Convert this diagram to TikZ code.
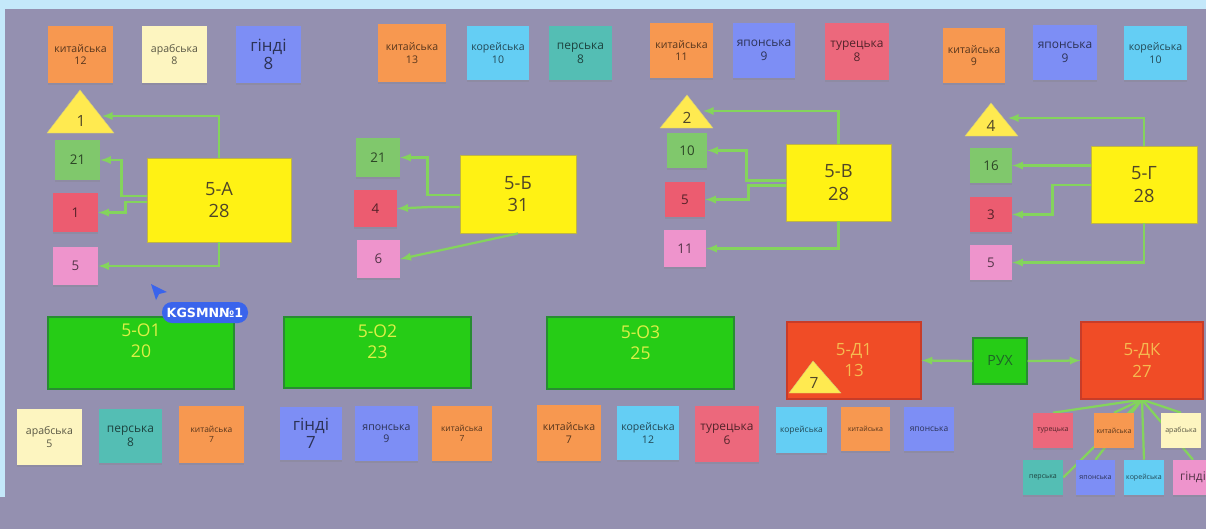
\documentclass[tikz,border=0pt]{standalone}
\usepackage{fontspec}
\setmainfont{Open Sans}
\newfontfamily\tagfont{DejaVu Sans}
\usetikzlibrary{positioning, shadows, backgrounds}

\newlength\unitpx
\setlength\unitpx{0.025cm}

\definecolor{bgpurple}{RGB}{148,144,176}
\definecolor{bandblue}{RGB}{196,232,250}
\definecolor{storange}{RGB}{247,152,80}
\definecolor{stcream}{RGB}{253,245,192}
\definecolor{stblue}{RGB}{125,142,245}
\definecolor{stcyan}{RGB}{100,206,244}
\definecolor{stteal}{RGB}{84,190,180}
\definecolor{stcoral}{RGB}{236,104,124}
\definecolor{stgreen}{RGB}{128,200,108}
\definecolor{stred}{RGB}{236,92,112}
\definecolor{stpink}{RGB}{238,148,204}
\definecolor{boxyellow}{RGB}{255,242,20}
\definecolor{boxedge}{RGB}{190,180,70}
\definecolor{boxtext}{RGB}{80,70,40}
\definecolor{triyellow}{RGB}{255,234,80}
\definecolor{brightgreen}{RGB}{38,204,22}
\definecolor{greenedge}{RGB}{40,140,50}
\definecolor{greentext}{RGB}{220,240,70}
\definecolor{boxred}{RGB}{240,76,38}
\definecolor{rededge}{RGB}{200,60,40}
\definecolor{redtext}{RGB}{245,186,80}
\definecolor{ruhtext}{RGB}{30,100,40}
\definecolor{arrowgreen}{RGB}{132,212,92}
\definecolor{tagblue}{RGB}{58,100,236}

\tikzset{
	sticky/.style={shape=rectangle, fill=#1, text=#1!35!black, inner sep=0pt, align=center, font=\fontsize{7.5}{9}\selectfont, drop shadow={shadow xshift=0pt, shadow yshift=-1.2pt, opacity=0.25}},
	sz/.style 2 args={minimum width=#1\unitpx, minimum height=#2\unitpx},
	midtext/.style={font=\fontsize{8.5}{10}\selectfont},
	hugetext/.style={font=\fontsize{12}{13}\selectfont},
	numtext/.style={font=\fontsize{9.5}{11}\selectfont},
	smalltext/.style={font=\fontsize{6}{7}\selectfont},
	tinytext/.style={font=\fontsize{5}{6}\selectfont},
	bigbox/.style={shape=rectangle, fill=boxyellow, draw=boxedge, line width=0.6pt, text=boxtext, align=center, inner sep=0pt, font=\fontsize{13}{16}\selectfont},
	grbox/.style={shape=rectangle, fill=brightgreen, draw=greenedge, line width=0.8pt, inner sep=0pt},
	grtext/.style={text=greentext, align=center, inner sep=0pt, font=\fontsize{12.5}{15}\selectfont},
	redbox/.style={shape=rectangle, fill=boxred, draw=rededge, line width=0.8pt, text=redtext, align=center, inner sep=0pt, font=\fontsize{12}{15}\selectfont},
	ruhbox/.style={shape=rectangle, fill=brightgreen, draw=greenedge, line width=0.8pt, text=ruhtext, inner sep=0pt, font=\fontsize{10}{12}\selectfont},
	trifill/.style={fill=triyellow, draw=boxedge!70, line width=0.3pt},
	tritext/.style={text=boxtext, inner sep=0pt, font=\fontsize{11}{12}\selectfont},
	arrowg/.style={draw=arrowgreen, line width=1.6pt, -latex},
	fanline/.style={draw=arrowgreen, line width=1.6pt},
	cursortag/.style={shape=rectangle, rounded corners=10\unitpx, fill=tagblue, text=white, inner sep=0pt, font=\tagfont\bfseries\fontsize{9}{10}\selectfont}
}

\begin{document}
\begin{tikzpicture}[x=0.025cm, y=-0.025cm]
	\useasboundingbox (0,0) rectangle (1206,529);
	\clip (0,0) rectangle (1206,529);
	% Board:
	\begin{pgfonlayer}{background}
		\fill[bgpurple] (0,0) rectangle (1206,529);
		\fill[bandblue] (0,0) rectangle (1206,9);
		\fill[bandblue] (0,0) rectangle (5,497);
	\end{pgfonlayer}

	% Top stickers:
	\node[sticky=storange, sz={65}{57}] (kit12) at (80.5,54.5) {китайська\\12};
	\node[sticky=stcream, sz={65}{57}] (arab8) at (174.5,54.5) {арабська\\8};
	\node[sticky=stblue, sz={65}{57}, hugetext] (hindi8) at (268.5,54.5) {гінді\\8};
	\node[sticky=storange, sz={68}{58}] (kit13) at (412,53) {китайська\\13};
	\node[sticky=stcyan, sz={62}{54}] (kor10) at (498,53) {корейська\\10};
	\node[sticky=stteal, sz={63}{54}, midtext] (pers8) at (580.5,53) {перська\\8};
	\node[sticky=storange, sz={63}{55}] (kit11) at (681.5,50.5) {китайська\\11};
	\node[sticky=stblue, sz={62}{55}, midtext] (yap9) at (764,50.5) {японська\\9};
	\node[sticky=stcoral, sz={64}{57}, midtext] (tur8) at (857,51.5) {турецька\\8};
	\node[sticky=storange, sz={62}{55}] (kit9) at (974,55.5) {китайська\\9};
	\node[sticky=stblue, sz={64}{55}, midtext] (yap9b) at (1065,52.5) {японська\\9};
	\node[sticky=stcyan, sz={63}{54}] (kor10b) at (1155.5,53) {корейська\\10};

	% 5-A:
	\fill[trifill] (80,90) -- (114,133) -- (47,133) -- cycle;
	\node[tritext] (tri1) at (81,121) {1};
	\coordinate (tri1e) at (102,116);
	\node[sticky=stgreen, sz={45}{40}, numtext] (a21) at (77.5,160) {21};
	\node[sticky=stred, sz={45}{39}, numtext] (a1) at (75.5,212.5) {1};
	\node[sticky=stpink, sz={45}{38}, numtext] (a5) at (75.5,266) {5};
	\node[bigbox, sz={144}{84}] (boxA) at (219,200) {5-А\\28};
	\draw[arrowg] (boxA.north) |- (tri1e);
	\draw[arrowg] (boxA.west) ++(0,-4) -- ++(-25,0) |- (a21.east);
	\draw[arrowg] (boxA.west) ++(0,2) -- ++(-21,0) |- (a1.east);
	\draw[arrowg] (boxA.south) |- (a5.east);

	% 5-Б:
	\node[sticky=stgreen, sz={44}{39}, numtext] (b21) at (378,157.5) {21};
	\node[sticky=stred, sz={43}{37}, numtext] (b4) at (375.5,208.5) {4};
	\node[sticky=stpink, sz={43}{38}, numtext] (b6) at (378.5,259) {6};
	\node[bigbox, sz={116}{78}] (boxB) at (518,194) {5-Б\\31};
	\draw[arrowg] (boxB.west) ++(0,1) -- ++(-32,0) |- (b21.east);
	\draw[arrowg] (boxB.west) ++(0,13) -- ++(-30,0) -- (b4.east);
	\draw[arrowg] (boxB.south) -- (b6.east);

	% 5-В:
	\fill[trifill] (687,95) -- (713,128) -- (660,128) -- cycle;
	\node[tritext] (tri2) at (687,118) {2};
	\coordinate (tri2e) at (703,111);
	\node[sticky=stgreen, sz={40}{35}, numtext] (v10) at (687,150.5) {10};
	\node[sticky=stred, sz={40}{35}, numtext] (v5) at (685,199.5) {5};
	\node[sticky=stpink, sz={42}{37}, numtext] (v11) at (685,248.5) {11};
	\node[bigbox, sz={105}{77}] (boxV) at (838.5,182.5) {5-В\\28};
	\draw[arrowg] (boxV.north) |- (tri2e);
	\draw[arrowg] (boxV.west) ++(0,-2) -- ++(-39,0) |- (v10.east);
	\draw[arrowg] (boxV.west) ++(0,3) -- ++(-37,0) |- (v5.east);
	\draw[arrowg] (boxV.south) |- (v11.east);

	% 5-Г:
	\fill[trifill] (991,103) -- (1018,136) -- (965,136) -- cycle;
	\node[tritext] (tri4) at (991,126) {4};
	\coordinate (tri4e) at (1008,118);
	\node[sticky=stgreen, sz={42}{35}, numtext] (g16) at (991,165.5) {16};
	\node[sticky=stred, sz={42}{35}, numtext] (g3) at (991,214.5) {3};
	\node[sticky=stpink, sz={42}{35}, numtext] (g5) at (991,262.5) {5};
	\node[bigbox, sz={106}{77}] (boxG) at (1144,184.5) {5-Г\\28};
	\draw[arrowg] (boxG.north) |- (tri4e);
	\draw[arrowg] (boxG.west |- g16.east) -- (g16.east);
	\draw[arrowg] (boxG.west) ++(0,0.5) -- ++(-38,0) |- (g3.east);
	\draw[arrowg] (boxG.south) |- (g5.east);

	% Bottom classes:
	\node[grbox, sz={186}{72}] (o1) at (141,353) {};
	\node[grtext] (o1t) at (141,341) {5-О1\\20};
	\node[grbox, sz={187}{71}] (o2) at (377.5,352.5) {};
	\node[grtext] (o2t) at (377.5,342) {5-О2\\23};
	\node[grbox, sz={187}{72}] (o3) at (640.5,353) {};
	\node[grtext] (o3t) at (640.5,343) {5-О3\\25};
	\node[redbox, sz={134}{77}] (d1) at (854,360.5) {5-Д1\\13};
	\fill[trifill] (813,361) -- (841,393) -- (789,393) -- cycle;
	\node[tritext] (tri7) at (814,383) {7};
	\node[ruhbox, sz={54}{46}] (ruh) at (1000,361) {РУХ};
	\node[redbox, sz={122}{77}] (dk) at (1142,360.5) {5-ДК\\27};
	\draw[arrowg] (ruh.west) -- (d1.east);
	\draw[arrowg] (ruh.east) -- (dk.west);

	% Cursor:
	\fill[tagblue] (151,284) -- (167,292) -- (159,294) -- (156,300) -- cycle;
	\node[cursortag, sz={86}{21}] (tag) at (205,312.5) {KGSMN№1};

	% Bottom stickers:
	\node[sticky=stcream, sz={65}{56}] (arab5) at (49.5,437) {арабська\\5};
	\node[sticky=stteal, sz={63}{54}, midtext] (pers8b) at (130.5,436) {перська\\8};
	\node[sticky=storange, sz={65}{57}, smalltext] (kit7a) at (211.5,434.5) {китайська\\7};
	\node[sticky=stblue, sz={62}{53}, hugetext] (hindi7) at (311,433.5) {гінді\\7};
	\node[sticky=stblue, sz={63}{55}] (yap9c) at (386.5,433.5) {японська\\9};
	\node[sticky=storange, sz={60}{55}, smalltext] (kit7b) at (462,433.5) {китайська\\7};
	\node[sticky=storange, sz={64}{56}] (kit7c) at (569,433) {китайська\\7};
	\node[sticky=stcyan, sz={62}{54}] (kor12) at (648,433) {корейська\\12};
	\node[sticky=stcoral, sz={64}{56}, midtext] (tur6) at (727,434) {турецька\\6};
	\node[sticky=stcyan, sz={51}{46}, smalltext] (kord) at (801.5,430) {корейська};
	\node[sticky=storange, sz={49}{44}, tinytext] (kitd) at (865.5,429) {китайська};
	\node[sticky=stblue, sz={50}{44}, smalltext] (yapd) at (929,429) {японська};

	% 5-ДК stickers:
	\node[sticky=stcoral, sz={40}{35}, tinytext] (f1) at (1053,430.5) {турецька};
	\node[sticky=storange, sz={40}{35}, tinytext] (f2) at (1114,430.5) {китайська};
	\node[sticky=stcream, sz={40}{35}, tinytext] (f3) at (1181,430.5) {арабська};
	\node[sticky=stteal, sz={40}{35}, tinytext] (f4) at (1043,477.5) {перська};
	\node[sticky=stblue, sz={39}{35}, tinytext] (f5) at (1095.5,477.5) {японська};
	\node[sticky=stcyan, sz={40}{35}, tinytext] (f6) at (1144,477.5) {корейська};
	\node[sticky=stpink, sz={40}{35}, midtext] (f7) at (1193,477.5) {гінді};
	\begin{pgfonlayer}{background}
		\foreach \t in {f1.north, f2.north, f3.north, f4.east, f5.north, f6.north, f7.north}
			\draw[fanline] (dk.south) -- (\t);
	\end{pgfonlayer}
\end{tikzpicture}
\end{document}
